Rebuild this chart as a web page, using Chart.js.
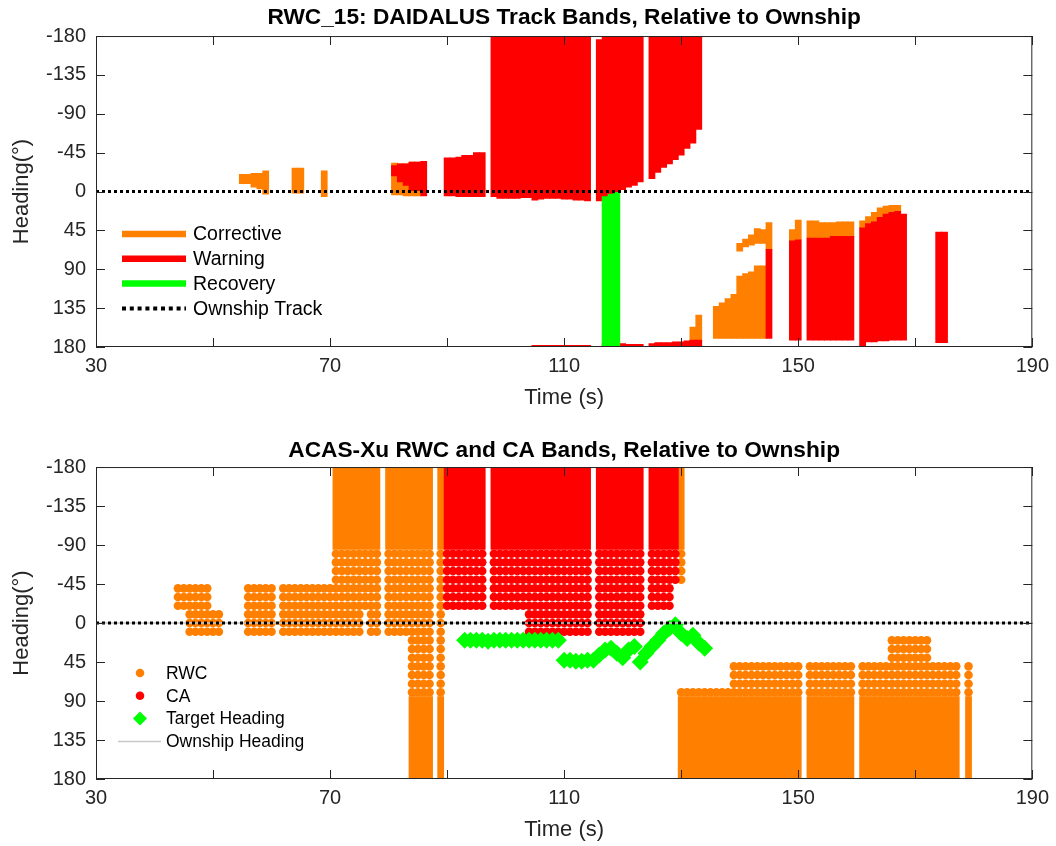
<!DOCTYPE html>
<html>
<head>
<meta charset="utf-8">
<script src="https://cdn.jsdelivr.net/npm/chart.js@4.4.0/dist/chart.umd.min.js"></script>
<style>
  html, body { margin: 0; padding: 0; background: #fff; overflow: hidden; }
  canvas { display: block; }
</style>
</head>
<body>
<canvas id="topChart" width="1056" height="431"></canvas>
<canvas id="bottomChart" width="1056" height="415"></canvas>
<script>
// AXES
const xTickLabels = [30, 70, 110, 150, 190];
const xTickMarks = [30, 50, 70, 90, 110, 130, 150, 170, 190];
const yTicks = [-180, -135, -90, -45, 0, 45, 90, 135, 180];

// TOP: DAIDALUS bands, one column per second
const corrT  = [55, 56, 57, 58, 59, 64, 65, 69, 81, 82, 83, 84, 85, 132, 133, 136, 137, 138, 139, 140, 141, 142, 143, 144, 140, 141, 142, 143, 144, 145, 149, 150, 152, 153, 154, 155, 156, 157, 158, 159, 161, 162, 163, 164, 165, 166, 167];
const corrLo = [-20, -20, -21, -21, -24, -27, -27, -24, -33, -32, -32, -34, -34, 157, 143, 133, 129, 124, 119, 98, 95, 93, 86, 86, 60, 55, 50, 43, 44, 36, 44, 33, 34, 34, 36, 36, 36, 35, 35, 35, 34, 29, 24, 19, 17, 16, 16];
const corrHi = [-9, -9, -5, -3, 3, 2, 2, 6, 4, 4, 5, 5, 5, 174, 174, 170, 170, 170, 170, 170, 170, 170, 170, 170, 69, 64, 62, 60, 60, 67, 57, 56, 54, 54, 54, 54, 52, 52, 52, 52, 42, 37, 35, 30, 26, 24, 23];

const warnT = [81, 82, 83, 84, 85, 86,
  90, 91, 92, 93, 94, 95, 96,
  98, 99, 100, 101, 102,
  103, 104, 105, 106, 107, 108, 109, 110, 111, 112, 113, 114,
  116, 117, 118, 119, 120, 121, 122, 123,
  125, 126, 127, 128, 129, 130, 131, 132, 133,
  105, 106, 107, 108, 109, 110, 111, 112, 113, 114,
  117, 118, 119, 120, 121, 122, 123,
  125, 126, 127, 128, 129, 130, 131, 132, 133,
  145, 149, 150,
  152, 153, 154, 155, 156, 157, 158, 159,
  161, 162, 163, 164, 165, 166, 167, 168,
  174, 175];
const warnLo = [-30, -32, -32, -34, -34, -35,
  -39, -39, -40, -42, -42, -45, -45,
  -180, -180, -180, -180, -180,
  -180, -180, -180, -180, -180, -180, -180, -180, -180, -180, -180, -180,
  -176, -180, -180, -180, -180, -180, -180, -180,
  -180, -180, -180, -180, -180, -180, -180, -180, -180,
  178, 178, 178, 178, 178, 178, 178, 178, 178, 178,
  176, 177, 176, 176, 177, 177, 177,
  176, 175, 175, 175, 174, 174, 173, 172, 172,
  67, 57, 56,
  54, 54, 54, 54, 52, 52, 52, 52,
  42, 37, 35, 30, 26, 24, 23, 26,
  47, 47];
const warnHi = [-18, -11, -7, -1, -1, 5,
  5, 5, 6, 6, 6, 6, 6,
  6, 8, 8, 8, 8,
  7, 7, 10, 9, 8, 8, 8, 9, 9, 10, 10, 11,
  11, 6, 3, 1, -2, -5, -7, -11,
  -15, -22, -28, -32, -37, -42, -50, -56, -72,
  180, 180, 180, 180, 180, 180, 180, 180, 180, 180,
  180, 180, 180, 180, 180, 180, 180,
  180, 180, 180, 180, 180, 180, 180, 180, 180,
  170, 172, 172,
  172, 172, 172, 172, 172, 172, 172, 172,
  180, 174, 174, 173, 173, 172, 172, 172,
  175, 175];

const recT  = [117, 118, 119];
const recLo = [6, 3, 1];
const recHi = [180, 180, 180];

const ownT = [30, 190];
const ownH = [0, 0];

// BOTTOM: ACAS-Xu bands as runs of 1 s columns (start, end, heading range)
const rwcDotStart = [44, 46, 50, 56, 62, 71, 76, 77, 80, 84, 88.9, 130, 130, 139, 152, 161, 166, 173, 179.1];
const rwcDotEnd   = [45, 49, 51, 60, 70, 75, 76, 78, 83, 87, 88.9, 130, 138, 150, 159, 165, 172, 177, 179.1];
const rwcDotLo    = [-40, -40, -10, -40, -40, -80, -80, -80, -80, -80, -80, -80, 80, 50, 50, 50, 20, 50, 50];
const rwcDotHi    = [-20, 10, 10, 10, 10, 10, -20, 10, 10, 80, 80, -50, 80, 80, 80, 80, 80, 80, 80];

const rwcBarStart = [71, 80, 88.9, 130, 84, 88.9, 130, 152, 161, 179.1];
const rwcBarEnd   = [78, 87, 88.9, 130, 87, 88.9, 150, 159, 177, 179.1];
const rwcBarLo    = [-180, -180, -180, -180, 85, 85, 85, 85, 85, 85];
const rwcBarHi    = [-85, -85, -85, -85, 180, 180, 180, 180, 180, 180];

const caDotStart = [90, 98, 104, 116, 125, 129];
const caDotEnd   = [96, 103, 114, 123, 128, 129];
const caDotLo    = [-80, -80, -80, -80, -80, -80];
const caDotHi    = [-20, -20, 10, 10, -20, -50];

const caBarStart = [90, 98, 116, 125];
const caBarEnd   = [96, 114, 123, 129];
const caBarLo    = [-180, -180, -180, -180];
const caBarHi    = [-85, -85, -85, -85];

const targetT = [93, 94, 95, 96, 97, 98, 99, 100, 101, 102, 103, 104, 105, 106, 107, 108, 109,
  110, 111, 112, 113, 114, 115, 116, 117, 118, 119, 120, 121, 122, 123, 124, 125, 126, 127, 128, 129, 130, 131, 132, 133, 134];
const targetH = [20, 20, 20, 20, 21, 20, 20, 20, 20, 20, 20, 20, 20, 20, 20, 20, 20,
  43, 43, 44, 44, 43, 43, 37, 31, 29, 35, 40, 31, 27, 45, 35, 27, 20, 12, 6, 2, 12, 18, 14, 23, 29];

const topLegendLabels = ['Corrective', 'Warning', 'Recovery', 'Ownship Track'];
const bottomLegendLabels = ['RWC', 'CA', 'Target Heading', 'Ownship Heading'];

const ORANGE = '#ff8000', RED = '#ff0000', GREEN = '#00ff00';
const FONT = "'Liberation Sans', Arial, Helvetica, sans-serif";
const INK = '#262626';
Chart.defaults.font.family = FONT;

function columns(t, lo, hi) {
  return t.map((v, i) => ({ x: v, y: [lo[i], hi[i]] }));
}
function runBars(start, end, lo, hi) {
  const out = [];
  start.forEach((s, i) => {
    for (let t = s; t <= end[i] + 1e-9; t += 1) out.push({ x: t, y: [lo[i], hi[i]] });
  });
  return out;
}
function runDots(start, end, lo, hi) {
  const out = [];
  start.forEach((s, i) => {
    for (let t = s; t <= end[i] + 1e-9; t += 1)
      for (let h = lo[i]; h <= hi[i]; h += 10) out.push({ x: t, y: h });
  });
  return out;
}
function line(t, h) {
  return t.map((v, i) => ({ x: v, y: h[i] }));
}

function scales(xHeight, xTitlePad) {
  return {
    x: {
      type: 'linear', min: 30, max: 190, offset: false,
      afterBuildTicks: s => { s.ticks = xTickLabels.map(v => ({ value: v })); },
      afterFit: s => { s.height = xHeight; },
      grid: { display: false, drawTicks: false },
      border: { display: false },
      ticks: { font: { size: 20 }, color: INK, padding: 7, maxRotation: 0, autoSkip: false },
      title: { display: true, text: 'Time (s)', font: { size: 22 }, color: INK, padding: { top: 0, bottom: xTitlePad } }
    },
    y: {
      type: 'linear', min: -180, max: 180, reverse: true,
      afterBuildTicks: s => { s.ticks = yTicks.map(v => ({ value: v })); },
      afterFit: s => { s.width = 96; },
      grid: { display: false, drawTicks: false },
      border: { display: false },
      ticks: { font: { size: 20 }, color: INK, padding: 10, autoSkip: false },
      title: { display: true, text: 'Heading(°)', font: { size: 22 }, color: INK, padding: { top: 9, bottom: 0 } }
    }
  };
}

// box + inward tick marks
const framePlugin = {
  id: 'frame',
  afterDatasetsDraw(chart) {
    const { ctx, chartArea: a, scales: { x, y } } = chart;
    ctx.save();
    ctx.strokeStyle = INK;
    ctx.lineWidth = 1;
    ctx.strokeRect(a.left + 0.5, a.top + 0.5, a.right - a.left - 1, a.bottom - a.top - 1);
    ctx.beginPath();
    xTickMarks.forEach(v => {
      const px = Math.round(x.getPixelForValue(v)) + 0.5;
      ctx.moveTo(px, a.bottom); ctx.lineTo(px, a.bottom - 9);
      ctx.moveTo(px, a.top); ctx.lineTo(px, a.top + 9);
    });
    yTicks.forEach(v => {
      const py = Math.round(y.getPixelForValue(v)) + 0.5;
      ctx.moveTo(a.left, py); ctx.lineTo(a.left + 9, py);
      ctx.moveTo(a.right, py); ctx.lineTo(a.right - 9, py);
    });
    ctx.stroke();
    ctx.restore();
  }
};

const topLegend = {
  id: 'topLegend',
  afterDatasetsDraw(chart) {
    const ctx = chart.ctx;
    const colors = [ORANGE, RED, GREEN, '#000'];
    ctx.save();
    ctx.font = '19.5px ' + FONT;
    ctx.textBaseline = 'middle';
    topLegendLabels.forEach((lab, i) => {
      const y = 234 + i * 24.8;
      ctx.beginPath();
      ctx.strokeStyle = colors[i];
      if (i === 3) { ctx.lineWidth = 4; ctx.setLineDash([4, 3.8]); }
      else { ctx.lineWidth = 6.5; ctx.setLineDash([]); }
      ctx.moveTo(122, y); ctx.lineTo(186, y);
      ctx.stroke();
      ctx.fillStyle = '#000';
      ctx.fillText(lab, 193, y + 1);
    });
    ctx.restore();
  }
};

const bottomLegend = {
  id: 'bottomLegend',
  afterDatasetsDraw(chart) {
    const ctx = chart.ctx;
    ctx.save();
    ctx.font = '17.5px ' + FONT;
    ctx.textBaseline = 'middle';
    bottomLegendLabels.forEach((lab, i) => {
      const y = 242 + i * 22.8;
      if (i < 2) {
        ctx.fillStyle = i === 0 ? ORANGE : RED;
        ctx.beginPath(); ctx.arc(140, y, 4.3, 0, Math.PI * 2); ctx.fill();
      } else if (i === 2) {
        ctx.fillStyle = GREEN;
        ctx.beginPath();
        ctx.moveTo(140, y - 7); ctx.lineTo(147, y); ctx.lineTo(140, y + 7); ctx.lineTo(133, y);
        ctx.closePath(); ctx.fill();
      } else {
        ctx.strokeStyle = '#c8c8c8'; ctx.lineWidth = 1.5;
        ctx.beginPath(); ctx.moveTo(118, y); ctx.lineTo(161, y); ctx.stroke();
      }
      ctx.fillStyle = '#000';
      ctx.fillText(lab, 166, y + 1);
    });
    ctx.restore();
  }
};

const barBase = { type: 'bar', grouped: false, barThickness: 6.1, borderWidth: 0, borderSkipped: false };

function titleOpts(text, top, bottom) {
  return { display: true, fullSize: false, text: text, color: '#000',
    font: { size: 22.7, weight: 'bold' }, padding: { top: top, bottom: bottom } };
}

new Chart(document.getElementById('topChart'), {
  type: 'scatter',
  data: {
    datasets: [
      { type: 'line', data: line(ownT, ownH), borderColor: '#000', borderWidth: 3, borderDash: [3, 3], pointRadius: 0, order: 0 },
      Object.assign({ data: columns(recT, recLo, recHi), backgroundColor: GREEN, order: 1 }, barBase),
      Object.assign({ data: columns(warnT, warnLo, warnHi), backgroundColor: RED, order: 2 }, barBase),
      Object.assign({ data: columns(corrT, corrLo, corrHi), backgroundColor: ORANGE, order: 3 }, barBase)
    ]
  },
  options: {
    responsive: false, animation: false, events: [],
    layout: { padding: { left: 0, right: 20, top: 0, bottom: 0 } },
    scales: scales(84, 19.8),
    plugins: {
      legend: { display: false }, tooltip: { enabled: false },
      title: titleOpts('RWC_15: DAIDALUS Track Bands, Relative to Ownship', 4.6, 4.2)
    }
  },
  plugins: [framePlugin, topLegend]
});

new Chart(document.getElementById('bottomChart'), {
  type: 'scatter',
  data: {
    datasets: [
      { type: 'line', data: line(ownT, ownH), borderColor: '#000', borderWidth: 3, borderDash: [3, 3], pointRadius: 0, order: 0 },
      { type: 'line', data: line(ownT, ownH), borderColor: '#c8c8c8', borderWidth: 1.5, pointRadius: 0, order: 1 },
      { data: line(targetT, targetH), pointStyle: 'rectRot', pointRadius: 8.5, backgroundColor: GREEN, borderWidth: 0, order: 2 },
      { data: runDots(caDotStart, caDotEnd, caDotLo, caDotHi), pointRadius: 4.3, backgroundColor: RED, borderWidth: 0, order: 3 },
      { data: runDots(rwcDotStart, rwcDotEnd, rwcDotLo, rwcDotHi), pointRadius: 4.3, backgroundColor: ORANGE, borderWidth: 0, order: 4 },
      Object.assign({ data: runBars(caBarStart, caBarEnd, caBarLo, caBarHi), backgroundColor: RED, order: 5 }, barBase),
      Object.assign({ data: runBars(rwcBarStart, rwcBarEnd, rwcBarLo, rwcBarHi), backgroundColor: ORANGE, order: 6 }, barBase)
    ]
  },
  options: {
    responsive: false, animation: false, events: [],
    layout: { padding: { left: 0, right: 20, top: 0, bottom: 0 } },
    scales: scales(67, 2.8),
    plugins: {
      legend: { display: false }, tooltip: { enabled: false },
      title: titleOpts('ACAS-Xu RWC and CA Bands, Relative to Ownship', 6.6, 2.2)
    }
  },
  plugins: [framePlugin, bottomLegend]
});
</script>
</body>
</html>
